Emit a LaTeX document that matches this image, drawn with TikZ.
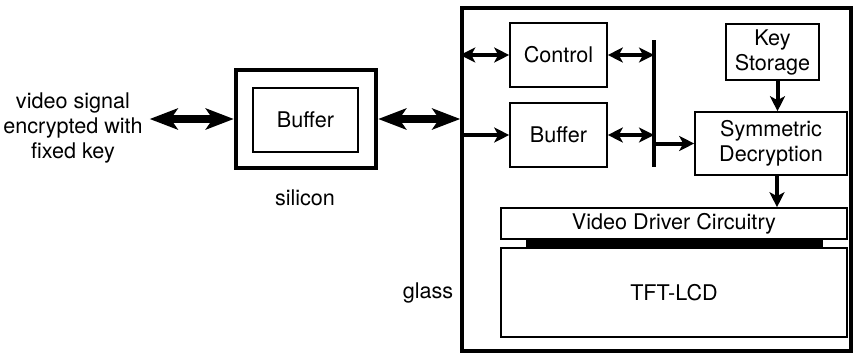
\documentclass[tikz,border=0pt]{standalone}
\usepackage{fontspec}
\setmainfont{TeX Gyre Heros}
\usetikzlibrary{arrows.meta}

\begin{document}
\begin{tikzpicture}[x=0.5pt,y=-0.5pt,
    font=\fontsize{10.8}{12.5}\selectfont,
    blk/.style={draw,line width=0.8pt,minimum width=48.5pt,minimum height=32pt,align=center,inner sep=0pt},
    fat/.style={line width=4pt,{Stealth[length=14pt,width=10.5pt,inset=3.5pt]}-{Stealth[length=14pt,width=10.5pt,inset=3.5pt]}},
    sig/.style={line width=2pt,-{Stealth[length=7.5pt,width=7.5pt,inset=2pt]}},
    bisig/.style={line width=2pt,{Stealth[length=7.5pt,width=7.5pt,inset=2pt]}-{Stealth[length=7.5pt,width=7.5pt,inset=2pt]}}]

    \useasboundingbox (0,0) rectangle (857,354);

    % outside the glass
    \node[align=center] (src) at (73,128) {video signal\\encrypted with\\fixed key};
    \node[draw,line width=2.2pt,minimum width=70pt,minimum height=49pt] (sil) at (306,119) {};
    \node[blk,minimum width=52.5pt] (buf1) at (305.5,120) {Buffer};
    \node (sillbl) at (305,198) {silicon};

    % glass frame
    \node[draw,line width=1.75pt,minimum width=194.5pt,minimum height=171.5pt] (gls) at (656.5,179.5) {};
    \node (glslbl) at (428,293) {glass};

    % blocks on the glass
    \node[blk] (ctrl) at (558.5,55) {Control};
    \node[blk] (buf2) at (558.5,135) {Buffer};
    \node[blk,minimum width=46.5pt,minimum height=28pt] (key) at (772.5,52) {Key\\Storage};
    \node[blk,minimum width=76pt,minimum height=31.5pt] (sym) at (771,143.5) {Symmetric\\Decryption};
    \node[blk,minimum width=173pt,minimum height=15.5pt] (vdc) at (674,223.5) {Video Driver Circuitry};
    \fill (526,239) rectangle (823,248);
    \node[blk,minimum width=173pt,minimum height=44.5pt] (lcd) at (674,292.5) {TFT-LCD};

    % bus
    \draw[line width=2pt] (654,40) coordinate (bt) -- (654,167) coordinate (bb);

    % connections
    \draw[fat] (src.east |- sil.west) -- (sil.west);
    \draw[fat] (sil.east) -- (gls.west |- sil.east);
    \draw[bisig] (gls.west |- ctrl.west) -- (ctrl.west);
    \draw[sig] (gls.west |- buf2.west) -- (buf2.west);
    \draw[bisig] (ctrl.east) -- (bt |- ctrl.east);
    \draw[bisig] (buf2.east) -- (bt |- buf2.east);
    \draw[sig] (bt |- sym.west) -- (sym.west);
    \draw[sig] ([xshift=2.5pt]key.south) -- ([xshift=2.5pt]key.south |- sym.north);
    \draw[sig] ([xshift=3pt]sym.south) -- ([xshift=3pt]sym.south |- vdc.north);
\end{tikzpicture}
\end{document}
